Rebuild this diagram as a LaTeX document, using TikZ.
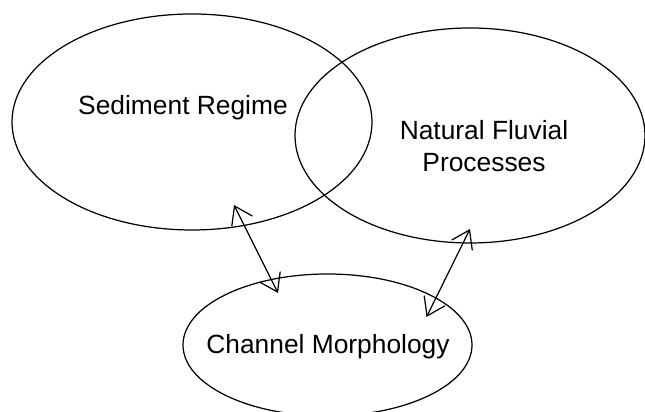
\documentclass[tikz,border=0pt]{standalone}
\usepackage{fontspec}
\setmainfont{Liberation Sans}
\usetikzlibrary{shapes.geometric,arrows.meta}
\tikzset{
	blob/.style={draw, ellipse, inner sep=0pt, line width=0.7pt},
	lbl/.style={align=center, font=\fontsize{15}{18.5}\selectfont},
	link/.style={{Straight Barb[length=3.4mm,width=4.6mm]}-{Straight Barb[length=3.4mm,width=4.6mm]}, line width=0.7pt}
}
\begin{document}
\begin{tikzpicture}[line cap=round, line join=round]
			\useasboundingbox (0,0) rectangle (12.9,8.24);
			\node[blob, minimum width=7.2cm, minimum height=4.32cm] (sed) at (3.84,5.80) {};
			\node[blob, minimum width=7.0cm, minimum height=4.30cm] (flu) at (9.40,5.53) {};
			\node[blob, minimum width=5.78cm, minimum height=2.84cm] (chan) at (6.55,1.34) {};
			\node[lbl] (sedtxt) at (3.66,6.08) {Sediment Regime};
			\node[lbl] (flutxt) at (9.68,5.32) {Natural Fluvial\\Processes};
			\node[lbl] (chantxt) at (6.56,1.30) {Channel Morphology};
			\coordinate (a1) at (4.68,4.14);
			\coordinate (b1) at (5.56,2.38);
			\coordinate (a2) at (9.40,3.66);
			\coordinate (b2) at (8.53,1.90);
			\draw[link] (a1)--(b1);
			\draw[link] (a2)--(b2);
		\end{tikzpicture}
\end{document}
